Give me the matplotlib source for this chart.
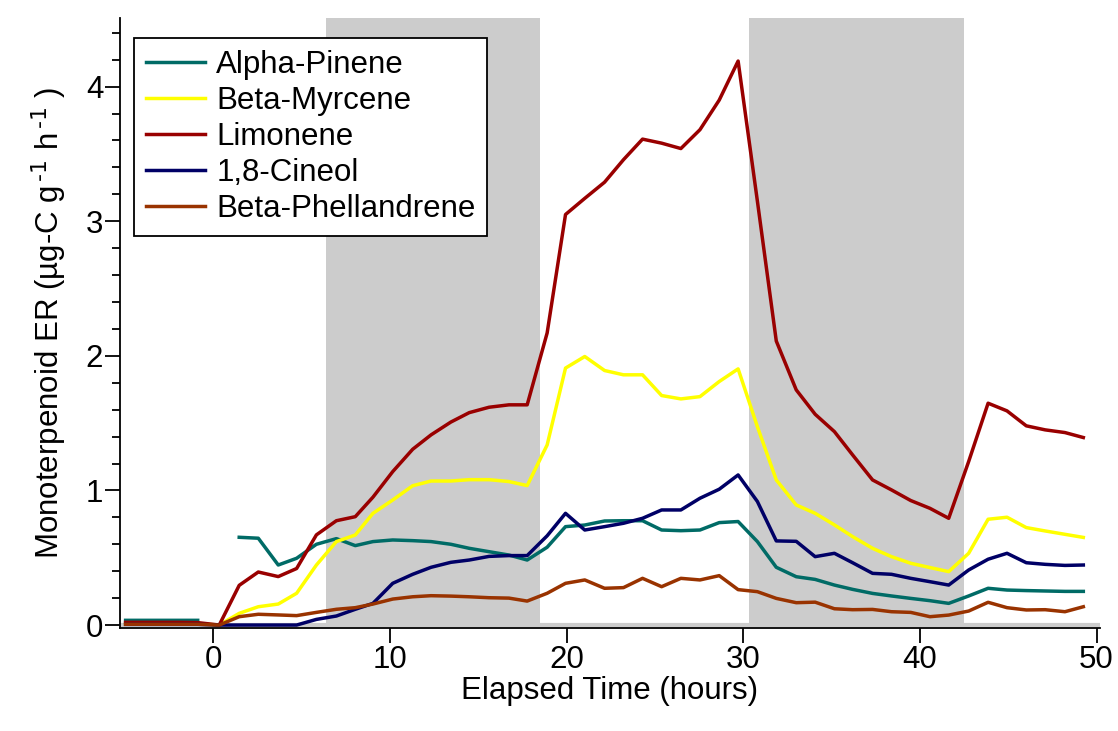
import matplotlib
matplotlib.use("Agg")
import matplotlib.pyplot as plt
import numpy as np
from matplotlib.ticker import MultipleLocator

plt.rcParams["font.family"] = ["Liberation Sans", "DejaVu Sans"]
plt.rcParams["mathtext.default"] = "regular"

# elapsed time (hours)
hours = [-4.96, -3.94, -2.92, -1.9, -0.88, 0.34, 1.47, 2.55, 3.68, 4.72,
         5.84, 6.97, 8.04, 9.04, 10.16, 11.29, 12.33, 13.45, 14.49, 15.61,
         16.74, 17.77, 18.9, 19.94, 21.03, 22.15, 23.22, 24.3, 25.38, 26.47,
         27.55, 28.64, 29.71, 30.8, 31.87, 33.0, 34.07, 35.16, 36.19, 37.32,
         38.39, 39.48, 40.57, 41.63, 42.76, 43.86, 44.93, 46.02, 47.09, 48.21,
         49.25]

alpha_pinene = [0.035, 0.035, 0.035, 0.035, 0.035, np.nan, 0.652, 0.645, 0.446, 0.496,
                0.60, 0.642, 0.59, 0.62, 0.632, 0.627, 0.62, 0.60, 0.57, 0.545,
                0.52, 0.483, 0.578, 0.731, 0.743, 0.773, 0.775, 0.775, 0.706, 0.701,
                0.706, 0.761, 0.769, 0.62, 0.429, 0.359, 0.339, 0.297, 0.265, 0.235,
                0.216, 0.198, 0.181, 0.161, 0.216, 0.273, 0.26, 0.256, 0.253, 0.25,
                0.25]

beta_myrcene = [0.01, 0.01, 0.01, 0.01, 0.01, 0.0, 0.087, 0.136, 0.156, 0.236,
                0.446, 0.62, 0.669, 0.83, 0.929, 1.035, 1.07, 1.07, 1.08, 1.08,
                1.066, 1.036, 1.338, 1.909, 1.995, 1.891, 1.859, 1.859, 1.705, 1.68,
                1.697, 1.809, 1.903, 1.474, 1.078, 0.892, 0.83, 0.744, 0.657, 0.57,
                0.508, 0.459, 0.427, 0.397, 0.533, 0.786, 0.801, 0.724, 0.699, 0.674,
                0.651]

limonene = [0.02, 0.02, 0.02, 0.02, 0.018, 0.0, 0.295, 0.394, 0.36, 0.42,
            0.67, 0.775, 0.805, 0.95, 1.14, 1.306, 1.413, 1.508, 1.578, 1.618,
            1.636, 1.636, 2.17, 3.05, 3.17, 3.29, 3.457, 3.61, 3.58, 3.54,
            3.68, 3.9, 4.19, 3.15, 2.11, 1.747, 1.566, 1.437, 1.264, 1.078,
            1.004, 0.925, 0.867, 0.793, 1.215, 1.648, 1.591, 1.48, 1.45, 1.43,
            1.393]

cineol = [0.005, 0.005, 0.005, 0.005, 0.005, 0.0, 0.0, 0.0, 0.0, 0.0,
          0.042, 0.067, 0.117, 0.161, 0.31, 0.377, 0.429, 0.466, 0.483, 0.51,
          0.516, 0.516, 0.663, 0.83, 0.706, 0.731, 0.756, 0.793, 0.855, 0.855,
          0.942, 1.009, 1.115, 0.918, 0.625, 0.622, 0.508, 0.533, 0.463, 0.384,
          0.377, 0.347, 0.322, 0.297, 0.409, 0.489, 0.533, 0.463, 0.451, 0.443,
          0.446]

beta_phellandrene = [0.006, 0.006, 0.006, 0.006, 0.006, 0.0, 0.062, 0.08, 0.075, 0.07,
                     0.094, 0.117, 0.129, 0.156, 0.193, 0.21, 0.218, 0.215, 0.21, 0.203,
                     0.2, 0.178, 0.236, 0.31, 0.335, 0.273, 0.278, 0.347, 0.285, 0.347,
                     0.335, 0.367, 0.263, 0.248, 0.198, 0.166, 0.17, 0.121, 0.114, 0.116,
                     0.099, 0.094, 0.062, 0.074, 0.104, 0.169, 0.129, 0.112, 0.114, 0.099,
                     0.136]

# dark periods (hours)
dark_periods = [(6.4, 18.5), (30.3, 42.5)]

series = [
    ("Alpha-Pinene", alpha_pinene, "#006b66"),
    ("Beta-Myrcene", beta_myrcene, "#ffff00"),
    ("Limonene", limonene, "#990000"),
    ("1,8-Cineol", cineol, "#000066"),
    ("Beta-Phellandrene", beta_phellandrene, "#993300"),
]

FS = 22.5
YMAX = 4.51

fig = plt.figure(figsize=(11.18, 7.31), dpi=100)
ax = fig.add_axes([0.1073, 0.1409, 0.8767, 0.8345])

for x0, x1 in dark_periods:
    ax.fill_between([x0, x1], 0.015, YMAX, color="#cccccc", linewidth=0, zorder=1)
ax.axhline(0, color="#cccccc", linewidth=3, zorder=1)

for name, vals, col in series:
    ax.plot(hours, vals, color=col, linewidth=2.5, label=name, zorder=3)

ax.set_xlim(-5.28, 50.2)
ax.set_ylim(-0.022, YMAX)
ax.xaxis.set_major_locator(MultipleLocator(10))
ax.yaxis.set_major_locator(MultipleLocator(1))
ax.yaxis.set_minor_locator(MultipleLocator(0.2))

for side in ("top", "right"):
    ax.spines[side].set_visible(False)
for side in ("left", "bottom"):
    ax.spines[side].set_linewidth(1.3)

ax.tick_params(axis="both", which="major", direction="out", length=11, width=1.3,
               labelsize=FS, pad=1)
ax.tick_params(axis="y", which="minor", direction="out", length=6, width=1.3)

ax.set_xlabel("Elapsed Time (hours)", fontsize=FS, labelpad=1)
ax.set_ylabel(r"Monoterpenoid ER (µg-C g$^{\,\text{-1}}$ h$^{\,\text{-1}}$ )",
              fontsize=FS, labelpad=12)

leg = ax.legend(loc="upper left", bbox_to_anchor=(0.014, 0.967), borderaxespad=0,
                fontsize=FS, frameon=True, fancybox=False, framealpha=1,
                edgecolor="black", handlelength=1.9, handletextpad=0.36,
                borderpad=0.38, labelspacing=0.19)
leg.get_frame().set_linewidth(1.3)
leg.set_zorder(5)

fig.savefig("out.png", dpi=100)
